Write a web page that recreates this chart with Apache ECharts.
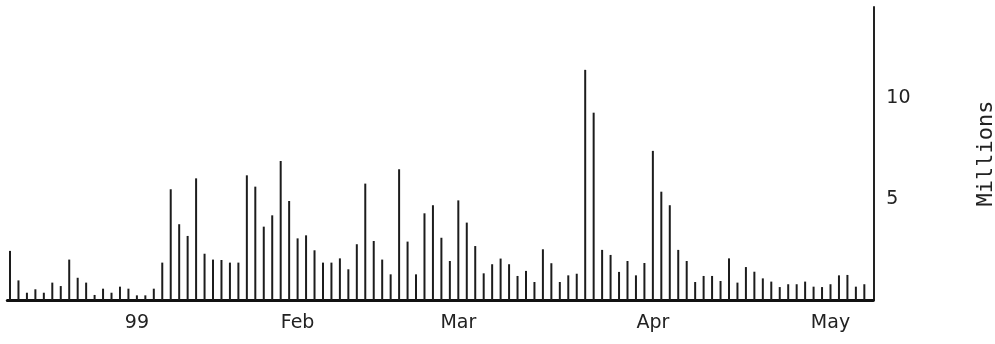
<!DOCTYPE html>
<html>
<head>
<meta charset="utf-8">
<script src="https://cdn.jsdelivr.net/npm/echarts@6/dist/echarts.min.js"></script>
<style>
html,body{margin:0;padding:0;background:#fff;}
#chart{width:995px;height:344px;}
</style>
</head>
<body>
<div id="chart"></div>
<script>
// Trading days, 10 Dec 1998 – 7 May 1999
const dates = [
  '1998-12-10','1998-12-11','1998-12-14','1998-12-15','1998-12-16','1998-12-17','1998-12-18',
  '1998-12-21','1998-12-22','1998-12-23','1998-12-24','1998-12-28','1998-12-29','1998-12-30','1998-12-31',
  '1999-01-04','1999-01-05','1999-01-06','1999-01-07','1999-01-08','1999-01-11','1999-01-12','1999-01-13',
  '1999-01-14','1999-01-15','1999-01-19','1999-01-20','1999-01-21','1999-01-22','1999-01-25','1999-01-26',
  '1999-01-27','1999-01-28','1999-01-29',
  '1999-02-01','1999-02-02','1999-02-03','1999-02-04','1999-02-05','1999-02-08','1999-02-09','1999-02-10',
  '1999-02-11','1999-02-12','1999-02-16','1999-02-17','1999-02-18','1999-02-19','1999-02-22','1999-02-23',
  '1999-02-24','1999-02-25','1999-02-26',
  '1999-03-01','1999-03-02','1999-03-03','1999-03-04','1999-03-05','1999-03-08','1999-03-09','1999-03-10',
  '1999-03-11','1999-03-12','1999-03-15','1999-03-16','1999-03-17','1999-03-18','1999-03-19','1999-03-22',
  '1999-03-23','1999-03-24','1999-03-25','1999-03-26','1999-03-29','1999-03-30','1999-03-31',
  '1999-04-01','1999-04-05','1999-04-06','1999-04-07','1999-04-08','1999-04-09','1999-04-12','1999-04-13',
  '1999-04-14','1999-04-15','1999-04-16','1999-04-19','1999-04-20','1999-04-21','1999-04-22','1999-04-23',
  '1999-04-26','1999-04-27','1999-04-28','1999-04-29','1999-04-30',
  '1999-05-03','1999-05-04','1999-05-05','1999-05-06','1999-05-07'
];

// Volume, millions
const volume = [
  2.43,0.97,0.36,0.53,0.36,0.86,0.69,2.00,1.10,0.86,0.25,0.56,0.36,0.66,0.56,
  0.23,0.23,0.56,1.85,5.48,3.75,3.17,6.02,2.29,2.00,1.98,1.85,1.85,6.17,5.61,3.63,4.19,6.88,4.90,
  3.05,3.20,2.46,1.85,1.85,2.06,1.52,2.76,5.76,2.92,2.00,1.27,6.47,2.89,1.27,4.29,4.69,3.08,1.93,
  4.93,3.83,2.67,1.32,1.77,2.05,1.77,1.19,1.44,0.89,2.51,1.82,0.89,1.22,1.30,11.39,9.27,2.48,2.23,1.39,1.93,1.22,1.83,
  7.38,5.36,4.69,2.48,1.93,0.89,1.19,1.19,0.94,2.06,0.86,1.63,1.40,1.07,0.91,0.64,0.78,0.78,0.91,0.66,0.64,
  0.78,1.22,1.24,0.66,0.78
];

// x tick labels (first trading day of each month)
const tickDates  = ['1999-01-04','1999-02-01','1999-03-01','1999-04-01','1999-05-03'];
const tickLabels = ['99','Feb','Mar','Apr','May'];

// y tick labels
const yTicks = [5, 10];
const yName = 'Millions';

const tickIdx = tickDates.map(d => dates.indexOf(d));
const seriesData = volume.map((v, i) => [i, v]);

const chart = echarts.init(document.getElementById('chart'), null, {renderer: 'canvas'});
const fontFam = '"DejaVu Sans", sans-serif';
chart.setOption({
  animation: false,
  backgroundColor: '#ffffff',
  grid: {left: 7.3, right: 121.7, top: 7, bottom: 44, containLabel: false, outerBoundsMode: 'none'},
  xAxis: {
    type: 'value',
    min: -0.32,
    max: 102.06,
    axisLine: {show: true, onZero: false, lineStyle: {color: '#111', width: 3}},
    axisTick: {show: false},
    splitLine: {show: false},
    axisLabel: {
      customValues: tickIdx,
      margin: 14,
      color: '#222',
      fontFamily: fontFam,
      fontSize: 19,
      formatter: function (v) {
        const k = tickIdx.indexOf(Math.round(v));
        return k >= 0 ? tickLabels[k] : '';
      }
    }
  },
  yAxis: {
    type: 'value',
    position: 'right',
    min: 0,
    max: 14.5,
    interval: 5,
    axisLine: {show: true, onZero: false, lineStyle: {color: '#222', width: 2}},
    axisTick: {show: false},
    splitLine: {show: false},
    axisLabel: {
      margin: 13,
      color: '#222',
      fontFamily: fontFam,
      fontSize: 19,
      formatter: function (v) { return yTicks.indexOf(v) >= 0 ? String(v) : ''; }
    },
    name: yName,
    nameLocation: 'middle',
    nameRotate: 90,
    nameGap: 102,
    nameTextStyle: {color: '#222', fontFamily: '"DejaVu Sans Mono", monospace', fontSize: 22}
  },
  series: [{
    type: 'bar',
    data: seriesData,
    barWidth: 2,
    itemStyle: {color: '#1c1c1c'},
    silent: true
  }]
});
</script>
</body>
</html>
